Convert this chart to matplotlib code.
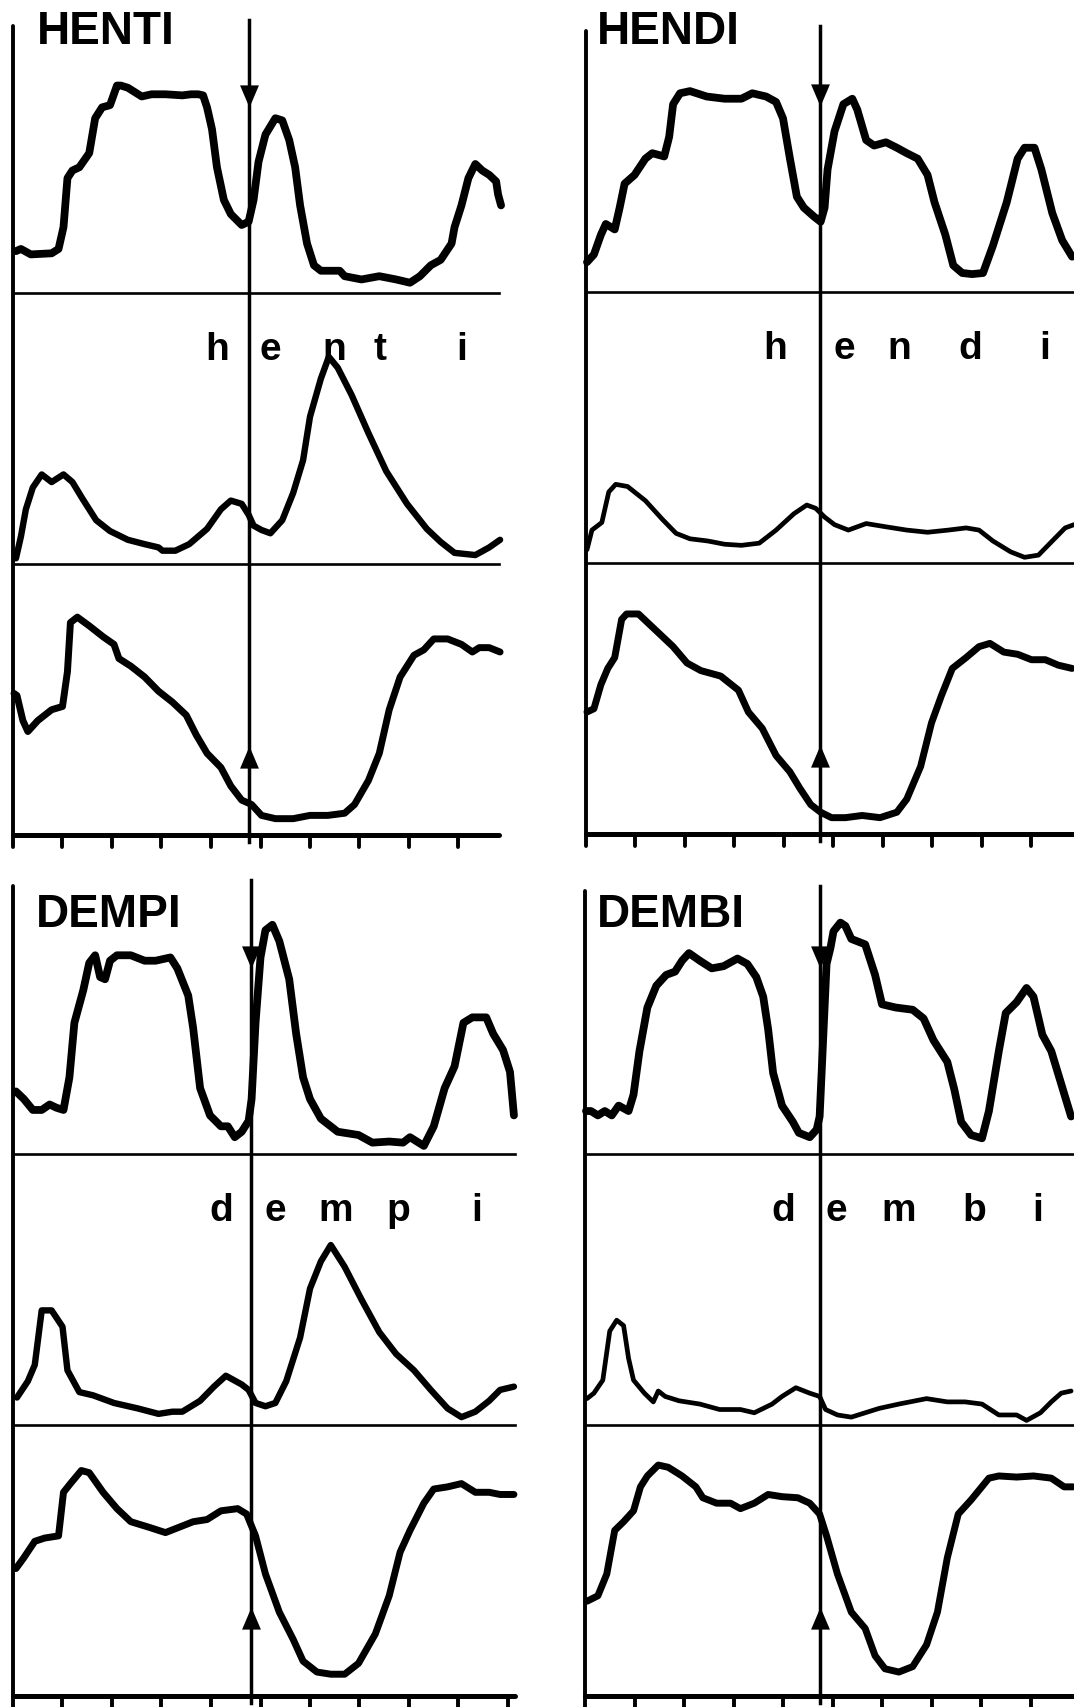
import matplotlib.pyplot as plt

# time in ms from the left axis (one tick = 50 ms)
# amplitude in arbitrary units above each trace's own baseline

# ---- HENTI ----
henti_top_t = [3, 8, 18, 39, 46, 51, 55, 60, 67, 77, 83, 90, 98, 105, 109, 116, 130, 140, 154, 171,
               180, 187, 192, 196, 201, 206, 213, 220, 231, 238, 243, 248, 255, 265, 272, 279, 285, 290,
               297, 304, 311, 321, 330, 335, 352, 370, 387, 401, 411, 422, 432, 443, 446, 453, 460, 467,
               474, 481, 488, 490, 493]
henti_top_y = [38, 40, 35, 36, 40, 60, 105, 112, 115, 128, 160, 170, 172, 190, 190, 188, 180, 182, 182, 181,
               182, 182, 181, 170, 150, 115, 85, 72, 62, 65, 85, 120, 145, 160, 158, 140, 115, 80,
               45, 25, 20, 20, 20, 15, 12, 15, 12, 9, 15, 25, 30, 45, 60, 80, 105, 118,
               112, 108, 102, 90, 80]
henti_mid_t = [3, 8, 13, 20, 29, 39, 51, 60, 70, 84, 98, 116, 133, 147, 151, 164, 178, 196, 210, 220,
               231, 238, 243, 251, 260, 272, 283, 293, 300, 311, 319, 328, 342, 359, 377, 398, 418, 432,
               446, 467, 481, 492]
henti_mid_y = [5, 25, 50, 70, 82, 75, 82, 75, 60, 40, 30, 22, 18, 15, 12, 12, 18, 32, 50, 58,
               55, 45, 35, 31, 28, 40, 65, 95, 135, 170, 190, 180, 155, 120, 85, 55, 32, 20,
               10, 8, 15, 22]
henti_bot_t = [1, 4, 10, 15, 25, 39, 50, 55, 58, 65, 77, 91, 102, 107, 119, 133, 147, 161, 175, 185,
               196, 210, 220, 231, 241, 251, 265, 283, 300, 318, 335, 345, 359, 370, 380, 391, 405, 415,
               425, 439, 453, 464, 471, 481, 492]
henti_bot_y = [130, 128, 105, 95, 105, 115, 118, 150, 195, 200, 192, 182, 175, 162, 155, 145, 132, 122, 110, 92,
               75, 62, 45, 32, 28, 18, 15, 15, 18, 18, 20, 28, 50, 75, 115, 145, 165, 170,
               180, 180, 175, 168, 172, 172, 168]

# ---- HENDI ----
hendi_top_t = [1, 8, 15, 20, 29, 34, 39, 49, 60, 67, 79, 84, 88, 95, 105, 122, 140, 157, 168, 182,
               192, 199, 206, 213, 220, 230, 237, 241, 244, 251, 260, 269, 274, 283, 291, 303, 314, 324,
               335, 345, 352, 363, 371, 380, 390, 401, 411, 425, 436, 443, 453, 460, 471, 481, 491]
hendi_top_y = [27, 34, 52, 62, 57, 77, 99, 107, 122, 127, 124, 142, 172, 182, 184, 179, 177, 177, 182, 179,
               174, 159, 122, 87, 77, 69, 64, 77, 112, 147, 172, 177, 167, 139, 134, 137, 132, 127,
               122, 107, 82, 52, 24, 17, 16, 17, 42, 82, 122, 132, 132, 112, 72, 47, 32]
hendi_mid_t = [1, 6, 16, 23, 30, 42, 60, 77, 91, 105, 123, 140, 157, 175, 192, 210, 223, 232, 241, 251,
               265, 283, 303, 324, 345, 366, 384, 397, 411, 429, 443, 457, 471, 484, 493]
hendi_mid_y = [12, 30, 37, 65, 72, 70, 57, 40, 27, 22, 20, 17, 16, 18, 30, 45, 53, 50, 42, 35,
               30, 36, 33, 30, 28, 30, 32, 30, 20, 10, 5, 7, 20, 32, 35]
hendi_bot_t = [1, 8, 15, 22, 29, 36, 41, 53, 67, 88, 102, 116, 136, 154, 164, 178, 192, 206, 216, 227,
               237, 248, 262, 279, 297, 314, 324, 338, 349, 359, 370, 384, 397, 408, 422, 436, 450, 464,
               477, 491]
hendi_bot_y = [112, 115, 137, 152, 162, 197, 202, 202, 190, 172, 157, 150, 145, 132, 112, 97, 72, 57, 42, 27,
               20, 15, 15, 17, 15, 20, 32, 62, 102, 127, 152, 162, 172, 175, 167, 165, 160, 160,
               155, 152]

# ---- DEMPI ----
dempi_top_t = [3, 11, 20, 29, 37, 44, 51, 57, 62, 71, 77, 83, 88, 93, 98, 105, 119, 133, 144, 159,
               166, 177, 182, 189, 199, 210, 217, 224, 231, 238, 241, 245, 250, 255, 262, 269, 279, 286,
               293, 300, 311, 328, 349, 363, 380, 394, 401, 415, 425, 436, 446, 455, 464, 478, 485, 495,
               502, 506]
dempi_top_y = [57, 50, 40, 40, 45, 42, 40, 70, 120, 150, 175, 182, 162, 160, 177, 182, 182, 177, 177, 180,
               170, 145, 115, 60, 35, 25, 25, 15, 20, 30, 50, 120, 180, 205, 210, 195, 160, 110,
               70, 50, 32, 20, 17, 10, 11, 10, 15, 7, 25, 60, 80, 120, 125, 125, 110, 95,
               75, 35]
dempi_mid_t = [4, 15, 22, 29, 39, 50, 55, 67, 81, 102, 126, 147, 161, 171, 189, 203, 215, 231, 238, 245,
               255, 265, 276, 290, 300, 311, 321, 335, 352, 370, 387, 405, 422, 439, 453, 467, 481, 492,
               506]
dempi_mid_y = [25, 40, 55, 105, 105, 90, 50, 30, 27, 20, 15, 10, 12, 12, 22, 35, 45, 37, 32, 20,
               17, 20, 40, 80, 125, 150, 165, 145, 115, 85, 65, 50, 32, 15, 7, 12, 22, 32,
               35]
dempi_bot_t = [3, 11, 22, 32, 46, 51, 58, 69, 77, 91, 105, 119, 137, 154, 168, 182, 196, 210, 227, 236,
               245, 255, 269, 283, 293, 307, 321, 335, 349, 366, 380, 391, 401, 415, 425, 439, 453, 467,
               481, 492, 506]
dempi_bot_y = [117, 127, 142, 145, 147, 187, 195, 207, 205, 187, 172, 160, 155, 150, 155, 160, 162, 170, 172, 167,
               147, 112, 77, 52, 32, 22, 20, 20, 30, 57, 92, 132, 152, 177, 190, 192, 195, 187,
               187, 185, 185]

# ---- DEMBI ----
dembi_top_t = [1, 6, 13, 20, 27, 34, 44, 49, 55, 63, 72, 82, 91, 98, 105, 116, 128, 140, 154, 164,
               173, 180, 185, 190, 199, 210, 216, 227, 234, 237, 241, 244, 248, 251, 258, 263, 269, 283,
               293, 300, 314, 331, 342, 352, 366, 373, 380, 390, 401, 408, 418, 425, 436, 446, 453, 462,
               471, 481, 491]
dembi_top_y = [39, 39, 35, 39, 35, 44, 39, 54, 94, 134, 154, 164, 167, 177, 184, 177, 170, 172, 179, 174,
               162, 144, 114, 74, 44, 29, 19, 15, 22, 34, 114, 174, 189, 204, 212, 209, 197, 192,
               164, 137, 134, 132, 124, 104, 84, 59, 29, 17, 14, 39, 94, 129, 139, 152, 144, 109,
               94, 64, 34]
dembi_mid_t = [2, 9, 18, 25, 32, 39, 44, 49, 60, 69, 74, 81, 95, 116, 136, 157, 171, 189, 199, 213,
               227, 237, 243, 255, 269, 283, 297, 317, 345, 366, 384, 401, 418, 436, 446, 460, 471, 481,
               491]
dembi_mid_y = [24, 29, 41, 86, 96, 91, 61, 41, 29, 21, 31, 26, 22, 19, 14, 14, 11, 19, 26, 34,
               29, 26, 14, 9, 7, 11, 15, 19, 24, 21, 21, 19, 9, 9, 4, 11, 21, 29,
               31]
dembi_bot_t = [2, 13, 22, 30, 39, 49, 56, 63, 74, 84, 98, 112, 119, 133, 147, 157, 171, 185, 199, 215,
               227, 237, 244, 255, 269, 283, 293, 303, 317, 331, 345, 356, 366, 377, 390, 408, 418, 436,
               453, 471, 484, 493]
dembi_bot_y = [87, 92, 112, 152, 160, 170, 192, 202, 212, 210, 202, 192, 182, 177, 177, 172, 177, 185, 183, 182,
               177, 167, 147, 112, 77, 62, 37, 25, 22, 27, 47, 77, 127, 167, 180, 200, 202, 201,
               202, 200, 192, 192]

words = ['HENTI', 'HENDI', 'DEMPI', 'DEMBI']
phonemes = [['h', 'e', 'n', 't', 'i'], ['h', 'e', 'n', 'd', 'i'],
            ['d', 'e', 'm', 'p', 'i'], ['d', 'e', 'm', 'b', 'i']]
phoneme_t = [[206, 260, 325, 371, 453], [191, 261, 316, 388, 463],
             [210, 265, 326, 389, 468], [200, 254, 317, 393, 457]]
marker_t = [238, 236, 240, 237]

traces = [
    [(henti_top_t, henti_top_y), (henti_mid_t, henti_mid_y), (henti_bot_t, henti_bot_y)],
    [(hendi_top_t, hendi_top_y), (hendi_mid_t, hendi_mid_y), (hendi_bot_t, hendi_bot_y)],
    [(dempi_top_t, dempi_top_y), (dempi_mid_t, dempi_mid_y), (dempi_bot_t, dempi_bot_y)],
    [(dembi_top_t, dembi_top_y), (dembi_mid_t, dembi_mid_y), (dembi_bot_t, dembi_bot_y)],
]

# layout (pixels in the output picture)
W, H = 1074, 1708
PX_MS = 49.5 / 50.0
PX_UNIT = 1.0893
panel_left = [13, 586, 13, 585]
panel_bottom = [836, 835, 1697, 1697]
line_end = [491, 520, 507, 520]
axis_top = [743, 737, 744, 739]
title_t = [24, 11, 23, 12]
title_y = [727, 726, 707, 707]
BASES = [498, 249, 0]
trace_lw = [5.6, 4.6, 5.0]

plt.rcParams['font.family'] = ['Liberation Sans', 'DejaVu Sans']

fig = plt.figure(figsize=(W / 100, H / 100), dpi=100)
fig.patch.set_facecolor('white')

down_head = [(-0.85, 1.0), (0.85, 1.0), (0.0, -1.0)]
up_head = [(-0.85, -1.0), (0.85, -1.0), (0.0, 1.0)]

for i in range(4):
    ax = fig.add_axes([0, 0, 1, 1])
    L, B = panel_left[i], panel_bottom[i]
    ax.set_xlim(-L / PX_MS, (W - L) / PX_MS)
    ax.set_ylim(-(H - B) / PX_UNIT, B / PX_UNIT)
    ax.axis('off')
    ax.patch.set_visible(False)

    end = line_end[i]
    # left axis, bottom axis with ticks, band separators
    ax.plot([0, 0], [-11, axis_top[i]], color='k', lw=2.8, solid_capstyle='round')
    ax.plot([0, end], [0, 0], color='k', lw=3.6, solid_capstyle='round')
    for t in range(50, end, 50):
        ax.plot([t, t], [0, -11], color='k', lw=2.8, solid_capstyle='round')
    ax.plot([0, end], [BASES[1], BASES[1]], color='k', lw=1.9)
    ax.plot([0, end], [BASES[0], BASES[0]], color='k', lw=1.9)

    # segmentation line with arrows
    mt = marker_t[i]
    ax.plot([mt, mt], [-6, axis_top[i] + 5], color='k', lw=2.5)
    ax.plot(mt, 678, marker=down_head, ms=16, color='k', mew=0)
    ax.plot(mt, 72, marker=up_head, ms=16, color='k', mew=0)

    for k, (tt, yy) in enumerate(traces[i]):
        lw = trace_lw[k]
        if k == 1 and i in (1, 3):
            lw = 3.4
        ax.plot(tt, [BASES[k] + v for v in yy], color='k', lw=lw,
                solid_joinstyle='round', solid_capstyle='round')

    ax.text(title_t[i], title_y[i], words[i], fontsize=33, fontweight='bold',
            ha='left', va='baseline')
    for ch, t in zip(phonemes[i], phoneme_t[i]):
        ax.text(t, 437, ch, fontsize=28, fontweight='bold', ha='center', va='baseline')

fig.savefig('out.png', dpi=100)
